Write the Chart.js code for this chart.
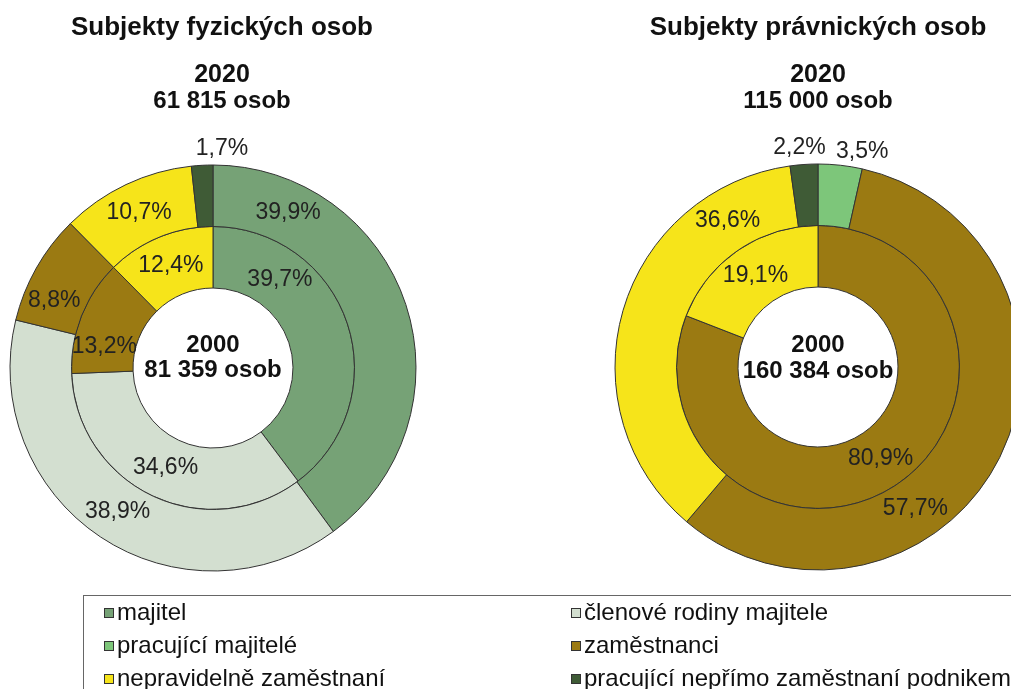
<!DOCTYPE html>
<html>
<head>
<meta charset="utf-8">
<script src="https://cdn.jsdelivr.net/npm/chart.js@4.4.1/dist/chart.umd.min.js"></script>
<style>
  body { margin: 0; width: 1011px; height: 689px; overflow: hidden; background: #fff; position: relative;
         font-family: "Liberation Sans", Arial, sans-serif; }
  canvas { position: absolute; top: 0; }
  #fyz { left: 0; }
  #prav { left: 598px; }
  #legend { position: absolute; left: 83px; top: 595px; width: 1000px; height: 120px; border: 1px solid #666; }
  .item { position: absolute; font-size: 24px; color: #111; white-space: nowrap; line-height: 26px; }
  .item i { display: inline-block; width: 8px; height: 8px; border: 1px solid #333; margin-right: 3px; vertical-align: 2px; }
</style>
</head>
<body>
<canvas id="fyz" width="426" height="736"></canvas>
<canvas id="prav" width="440" height="734"></canvas>
<div id="legend"></div>
<script>
// kategorie + barvy
const categories = ['majitel', 'členové rodiny majitele', 'pracující majitelé', 'zaměstnanci',
                    'nepravidelně zaměstnaní', 'pracující nepřímo zaměstnaní podnikem'];
const colors = ['#76a276', '#d3dfd0', '#7dc67a', '#9b7a12', '#f6e41a', '#3f5b36'];

// subjekty fyzických osob (vnější kruh 2020, vnitřní 2000)
const fyzCats = ['majitel', 'členové rodiny majitele', 'zaměstnanci', 'nepravidelně zaměstnaní', 'pracující nepřímo zaměstnaní podnikem'];
const fyz2020 = [39.9, 38.9, 8.8, 10.7, 1.7];
const fyz2000 = [39.7, 34.6, 13.2, 12.4, 0];

// subjekty právnických osob
const pravCats = ['pracující majitelé', 'zaměstnanci', 'nepravidelně zaměstnaní', 'pracující nepřímo zaměstnaní podnikem'];
const prav2020 = [3.5, 57.7, 36.6, 2.2];
const prav2000 = [0, 80.9, 19.1, 0];

// where along each slice the % label sits (0 = start, 1 = end)
const fyzLabelFrac = [[0.18, 0.5, 0.29, 0.5, 1.38], [0.26, 0.5, 0.28, 0.5, 0.5]];
const pravLabelFrac = [[0.92, 0.64, 0.82, 0.39], [0.5, 0.5, 0.5, 0.5]];

const FONT = '"Liberation Sans", Arial, sans-serif';

function fmt(v) {
  return v.toFixed(1).replace('.', ',') + '%';
}

function colorOf(name) {
  return colors[categories.indexOf(name)];
}

const labelPlugin = {
  id: 'pctLabels',
  afterDatasetsDraw(chart, args, opts) {
    const ctx = chart.ctx;
    ctx.save();
    ctx.fillStyle = '#222';
    ctx.textAlign = 'center';
    ctx.textBaseline = 'middle';
    ctx.font = '23px ' + FONT;
    chart.data.datasets.forEach((ds, di) => {
      const meta = chart.getDatasetMeta(di);
      meta.data.forEach((arc, i) => {
        const v = ds.data[i];
        if (!v) return;
        const f = opts.frac[di][i];
        const a = arc.startAngle + f * (arc.endAngle - arc.startAngle);
        const outside = di === 0 && v < 5;
        const r = outside ? arc.outerRadius + 17 : (arc.innerRadius + arc.outerRadius) / 2;
        ctx.fillText(fmt(v), arc.x + r * Math.cos(a), arc.y + r * Math.sin(a));
      });
    });

    // nadpisy a texty uprostřed
    const cx = chart.getDatasetMeta(0).data[0].x;
    ctx.fillStyle = '#111';
    ctx.textBaseline = 'alphabetic';
    opts.texts.forEach(t => {
      ctx.font = t.font + ' ' + FONT;
      ctx.fillText(t.text, cx + (t.dx || 0), t.y);
    });
    ctx.restore();
  }
};

function makeChart(id, cats, outer, inner, frac, texts) {
  const bg = cats.map(colorOf);
  return new Chart(document.getElementById(id), {
    type: 'doughnut',
    data: {
      labels: cats,
      datasets: [
        { label: '2020', data: outer, backgroundColor: bg, borderColor: '#333', borderWidth: 1 },
        { label: '2000', data: inner, backgroundColor: bg, borderColor: '#333', borderWidth: 1 }
      ]
    },
    options: {
      responsive: false,
      animation: false,
      devicePixelRatio: 1,
      radius: 203,
      cutout: '39.4%',
      layout: { padding: 0 },
      plugins: {
        legend: { display: false },
        tooltip: { enabled: false },
        pctLabels: { frac: frac, texts: texts }
      }
    },
    plugins: [labelPlugin]
  });
}

makeChart('fyz', fyzCats, fyz2020, fyz2000, fyzLabelFrac, [
  { text: 'Subjekty fyzických osob', y: 35, font: 'bold 26px', dx: 9 },
  { text: '2020', y: 82, font: 'bold 25px', dx: 9 },
  { text: '61 815 osob', y: 108, font: 'bold 24px', dx: 9 },
  { text: '2000', y: 352, font: 'bold 24px' },
  { text: '81 359 osob', y: 377, font: 'bold 24px' }
]);

makeChart('prav', pravCats, prav2020, prav2000, pravLabelFrac, [
  { text: 'Subjekty právnických osob', y: 35, font: 'bold 26px' },
  { text: '2020', y: 82, font: 'bold 25px' },
  { text: '115 000 osob', y: 108, font: 'bold 24px' },
  { text: '2000', y: 352, font: 'bold 24px' },
  { text: '160 384 osob', y: 378, font: 'bold 24px' }
]);

// legenda ve dvou sloupcích
const legend = document.getElementById('legend');
categories.forEach((name, i) => {
  const el = document.createElement('div');
  el.className = 'item';
  el.style.left = (i % 2 === 0 ? 20 : 487) + 'px';
  el.style.top = (3 + Math.floor(i / 2) * 33) + 'px';
  el.innerHTML = '<i style="background:' + colors[i] + '"></i>' + name;
  legend.appendChild(el);
});
</script>
</body>
</html>
